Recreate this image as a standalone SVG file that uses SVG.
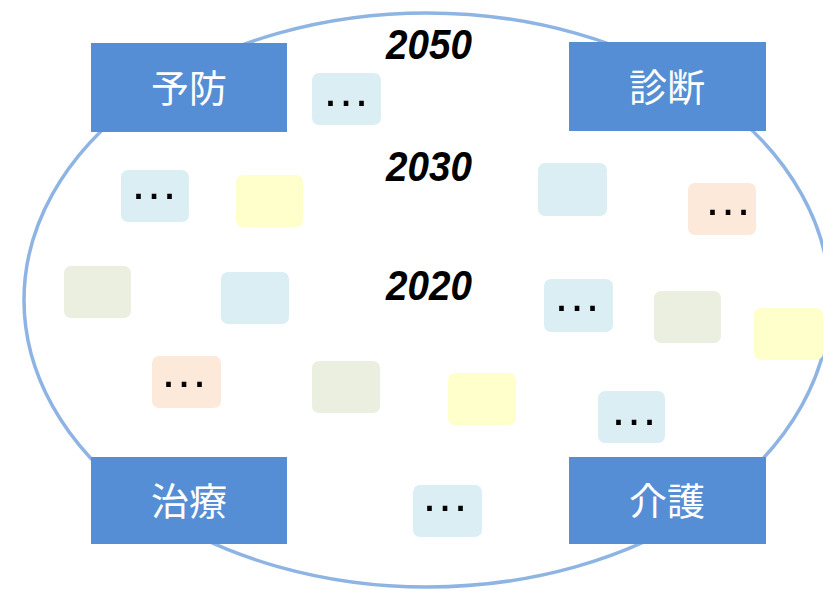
<svg xmlns="http://www.w3.org/2000/svg" width="823" height="591" viewBox="0 0 823 591">
<style>
.main rect{fill:#558ED5;}
.main text{fill:#ffffff;font-family:"Noto Sans CJK JP","Noto Sans",sans-serif;font-size:38px;text-anchor:middle;}
.card{stroke:none;}
.lb{fill:#DBEEF4;}
.yl{fill:#FFFFCC;}
.pc{fill:#FDE9D9;}
.gr{fill:#EBEFDF;}
.dots{font-family:"Liberation Sans",Arial,sans-serif;font-size:49px;fill:#000;text-anchor:middle;}
.year{font-family:"Liberation Sans",Arial,sans-serif;font-size:42px;font-weight:bold;font-style:italic;fill:#000;}
</style>
<rect width="823" height="591" fill="#ffffff"/>
<g id="connectors">
<ellipse cx="427" cy="300" rx="403" ry="287" fill="none" stroke="#8EB4E3" stroke-width="3.5"/>
</g>
<g id="years">
<text class="year" x="386" y="59" textLength="86" lengthAdjust="spacingAndGlyphs">2050</text>
<text class="year" x="386" y="181" textLength="86" lengthAdjust="spacingAndGlyphs">2030</text>
<text class="year" x="386" y="300" textLength="86" lengthAdjust="spacingAndGlyphs">2020</text>
</g>
<g id="card1"><rect class="card lb" x="312" y="73" width="69" height="52" rx="7"/><text class="dots" x="346" y="106">…</text></g>
<g id="card2"><rect class="card lb" x="121" y="170" width="68" height="52" rx="7"/><text class="dots" x="154" y="199">…</text></g>
<g id="card3"><rect class="card yl" x="236" y="175" width="67" height="52" rx="7"/></g>
<g id="card4"><rect class="card lb" x="538" y="163" width="69" height="53" rx="7"/></g>
<g id="card5"><rect class="card pc" x="688" y="183" width="68" height="52" rx="7"/><text class="dots" x="728" y="215">…</text></g>
<g id="card6"><rect class="card gr" x="64" y="266" width="67" height="52" rx="7"/></g>
<g id="card7"><rect class="card lb" x="221" y="272" width="68" height="52" rx="7"/></g>
<g id="card8"><rect class="card pc" x="152" y="356" width="69" height="52" rx="7"/><text class="dots" x="184" y="387">…</text></g>
<g id="card9"><rect class="card gr" x="312" y="361" width="68" height="52" rx="7"/></g>
<g id="card10"><rect class="card lb" x="544" y="279" width="69" height="53" rx="7"/><text class="dots" x="577" y="311">…</text></g>
<g id="card11"><rect class="card gr" x="654" y="291" width="67" height="52" rx="7"/></g>
<g id="card12"><rect class="card yl" x="754" y="308" width="69" height="52" rx="7"/></g>
<g id="card13"><rect class="card yl" x="448" y="373" width="68" height="52" rx="7"/></g>
<g id="card14"><rect class="card lb" x="598" y="391" width="67" height="52" rx="7"/><text class="dots" x="634" y="425">…</text></g>
<g id="card15"><rect class="card lb" x="413" y="485" width="69" height="52" rx="7"/><text class="dots" x="445" y="511">…</text></g>
<g id="yobou" class="main"><rect x="91" y="43" width="196" height="89"/><text x="189" y="102">予防</text></g>
<g id="shindan" class="main"><rect x="569" y="42" width="197" height="89"/><text x="667" y="101">診断</text></g>
<g id="chiryou" class="main"><rect x="91" y="457" width="196" height="87"/><text x="189" y="515">治療</text></g>
<g id="kaigo" class="main"><rect x="569" y="457" width="197" height="87"/><text x="667" y="515">介護</text></g>
</svg>
